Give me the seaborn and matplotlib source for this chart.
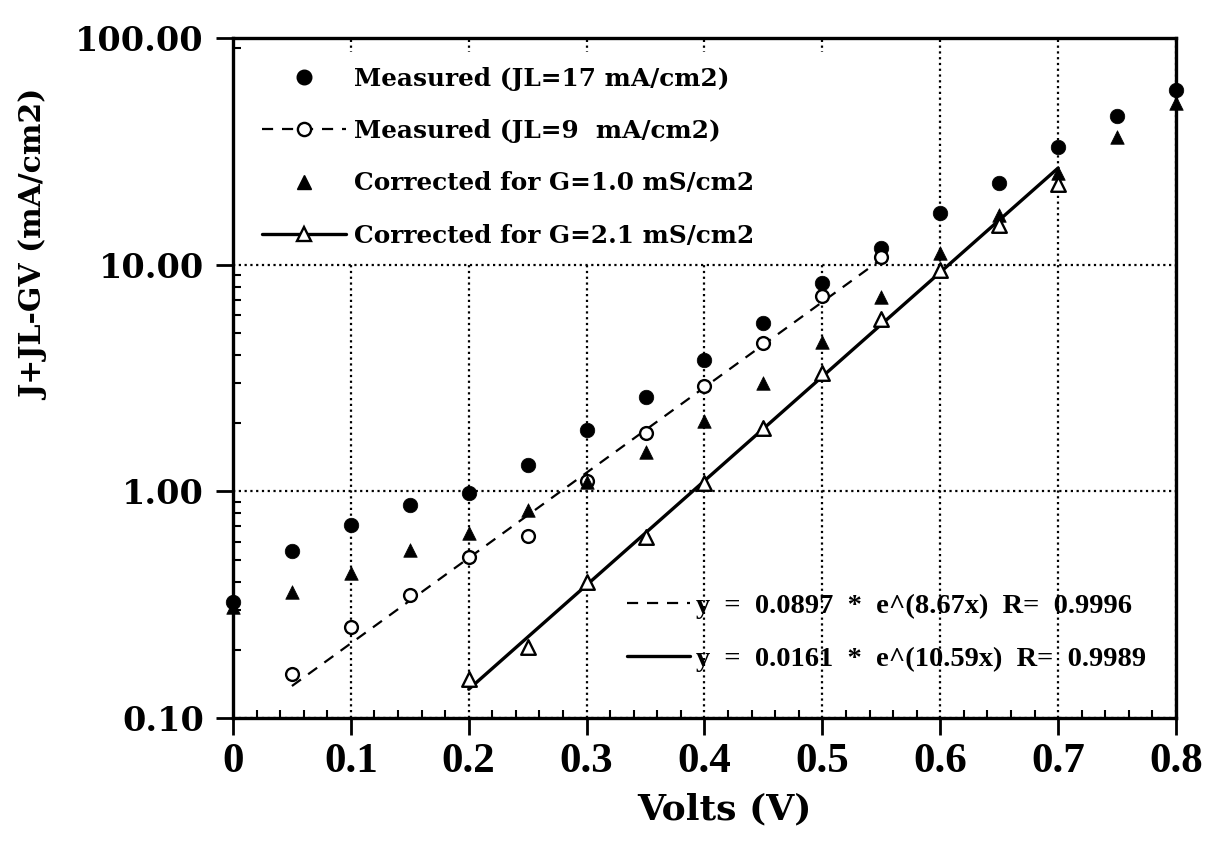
import numpy as np
import matplotlib
matplotlib.use("Agg")
import matplotlib.pyplot as plt
from matplotlib.lines import Line2D
from matplotlib.patches import Rectangle
from matplotlib.ticker import FixedLocator, FormatStrFormatter, LogLocator, MultipleLocator, NullFormatter
import seaborn as sns

# ---- data -------------------------------------------------------------
volts = [0.00, 0.05, 0.10, 0.15, 0.20, 0.25, 0.30, 0.35, 0.40,
         0.45, 0.50, 0.55, 0.60, 0.65, 0.70, 0.75, 0.80]
j_meas_jl17 = [0.325, 0.546, 0.71, 0.87, 0.98, 1.31, 1.86, 2.61, 3.8,
               5.5, 8.3, 11.9, 16.9, 22.9, 33.1, 45.3, 59.0]
j_corr_g10 = [0.31, 0.36, 0.436, 0.552, 0.655, 0.828, 1.10, 1.49, 2.04,
              3.0, 4.56, 7.2, 11.3, 16.6, 25.4, 36.6, 51.7]

volts_jl9 = [0.05, 0.10, 0.15, 0.20, 0.25, 0.30, 0.35, 0.40, 0.45, 0.50, 0.55]
j_meas_jl9 = [0.157, 0.252, 0.349, 0.514, 0.636, 1.11, 1.81, 2.92, 4.5, 7.3, 10.8]

volts_g21 = [0.20, 0.25, 0.30, 0.35, 0.40, 0.45, 0.50, 0.55, 0.60, 0.65, 0.70]
j_corr_g21 = [0.148, 0.206, 0.40, 0.63, 1.09, 1.90, 3.33, 5.76, 9.48, 15.0, 22.7]

# exponential fits y = a * e^(b x) and their ranges
fit_jl9 = dict(a=0.0897, b=8.67, r=0.9996, lo=0.05, hi=0.55)
fit_g21 = dict(a=0.0161, b=10.59, r=0.9989, lo=0.20, hi=0.70)

legend_labels = ["Measured (JL=17 mA/cm2)", "Measured (JL=9  mA/cm2)",
                 "Corrected for G=1.0 mS/cm2", "Corrected for G=2.1 mS/cm2"]
x_ticks = [0, 0.1, 0.2, 0.3, 0.4, 0.5, 0.6, 0.7, 0.8]
x_tick_labels = ["0", "0.1", "0.2", "0.3", "0.4", "0.5", "0.6", "0.7", "0.8"]
y_ticks = [0.1, 1, 10, 100]

# ---- figure -----------------------------------------------------------
sns.set_theme(style="white")
plt.rcParams["font.family"] = ["DejaVu Serif", "DejaVu Sans"]
plt.rcParams["text.color"] = "black"
plt.rcParams["axes.labelcolor"] = "black"
plt.rcParams["xtick.color"] = "black"
plt.rcParams["ytick.color"] = "black"

fig = plt.figure(figsize=(12.11, 8.42), dpi=100)
ax = fig.add_axes([0.1924, 0.1473, 0.7787, 0.8076])
ax.set_axisbelow(True)

dash_style = (0, (5, 4))
ink = "black"

# fit lines
for fit, ls, lw in [(fit_jl9, dash_style, 1.6), (fit_g21, "-", 2.4)]:
    xs = np.linspace(fit["lo"], fit["hi"], 50)
    sns.lineplot(x=xs, y=fit["a"] * np.exp(fit["b"] * xs), ax=ax, color=ink,
                 linestyle=ls, linewidth=lw, estimator=None, sort=False, zorder=2)

mk = dict(ax=ax, clip_on=False, legend=False)
sns.scatterplot(x=volts, y=j_meas_jl17, marker="o", s=110, color=ink,
                edgecolor=ink, linewidth=0.5, zorder=3, **mk)
sns.scatterplot(x=volts_jl9, y=j_meas_jl9, marker="o", s=85, color="white",
                edgecolor=ink, linewidth=1.7, zorder=4, **mk)
sns.scatterplot(x=volts, y=j_corr_g10, marker="^", s=95, color=ink,
                edgecolor=ink, linewidth=0.5, zorder=5, **mk)
sns.scatterplot(x=volts_g21, y=j_corr_g21, marker="^", s=110, color="white",
                edgecolor=ink, linewidth=1.7, zorder=6, **mk)

# ---- axes -------------------------------------------------------------
ax.set_yscale("log")
ax.set_xlim(0, 0.8)
ax.set_ylim(0.1, 100)

ax.xaxis.set_major_locator(FixedLocator(x_ticks))
ax.set_xticklabels(x_tick_labels)
ax.xaxis.set_minor_locator(MultipleLocator(0.02))
ax.yaxis.set_major_locator(FixedLocator(y_ticks))
ax.yaxis.set_major_formatter(FormatStrFormatter("%.2f"))
ax.yaxis.set_minor_locator(LogLocator(base=10, subs=np.arange(2, 10)))
ax.yaxis.set_minor_formatter(NullFormatter())

ax.tick_params(axis="both", which="major", direction="out", length=12,
               width=2.0, color=ink, labelcolor=ink, bottom=True, left=True)
ax.tick_params(axis="both", which="minor", direction="in", length=6,
               width=1.5, color=ink, bottom=True, left=True)
ax.tick_params(axis="x", which="major", pad=6)
ax.tick_params(axis="y", which="major", pad=9)

for lab in ax.get_xticklabels():
    lab.set_fontfamily("Liberation Serif")
    lab.set_fontweight("bold")
    lab.set_fontsize(31)
for lab in ax.get_yticklabels():
    lab.set_fontfamily("DejaVu Serif")
    lab.set_fontweight("bold")
    lab.set_fontsize(24)

for sp in ax.spines.values():
    sp.set_visible(True)
    sp.set_color(ink)
    sp.set_linewidth(2.4)

ax.grid(True, which="major", color=ink, linestyle=(0, (1, 1.6)), linewidth=1.6)
ax.set_xlabel("Volts (V)", fontsize=26, fontweight="bold", fontfamily="DejaVu Serif",
              color=ink)
ax.xaxis.set_label_coords(0.521, -0.110)
ax.set_ylabel("J+JL-GV (mA/cm2)", fontsize=21.5, fontweight="bold",
              fontfamily="DejaVu Serif", color=ink)
ax.yaxis.set_label_coords(-0.195, 0.696)

# white panel behind the series key
ax.add_patch(Rectangle((0.0, 0.670), 0.66, 0.309, transform=ax.transAxes,
                       facecolor="white", edgecolor="none", zorder=1))

# ---- series key -------------------------------------------------------
handles = [
    Line2D([], [], linestyle="none", marker="o", markersize=10.5, color=ink),
    Line2D([], [], linestyle=dash_style, linewidth=1.6, color=ink, marker="o",
           markersize=9.5, markerfacecolor="white", markeredgewidth=1.7),
    Line2D([], [], linestyle="none", marker="^", markersize=10, color=ink),
    Line2D([], [], linestyle="-", linewidth=2.4, color=ink, marker="^",
           markersize=10.5, markerfacecolor="white", markeredgewidth=1.7),
]
leg = ax.legend(handles, legend_labels, loc="upper left", bbox_to_anchor=(0.031, 0.958),
                frameon=False, borderaxespad=0, borderpad=0, handlelength=3.4,
                handletextpad=0.3, labelspacing=1.15,
                prop=dict(family="DejaVu Serif", weight="bold", size=17.8))
leg.set_zorder(7)
for t in leg.get_texts():
    t.set_color(ink)
ax.add_artist(leg)

# ---- fit equations ----------------------------------------------------
fit_handles = [Line2D([], [], linestyle=dash_style, linewidth=1.6, color=ink),
               Line2D([], [], linestyle="-", linewidth=2.4, color=ink)]
fit_labels = [f"y  =  {fit_jl9['a']:.4f}  *  e^({fit_jl9['b']:.2f}x)  R=  {fit_jl9['r']:.4f}",
              f"y  =  {fit_g21['a']:.4f}  *  e^({fit_g21['b']:.2f}x)  R=  {fit_g21['r']:.4f}"]
leg2 = ax.legend(fit_handles, fit_labels, loc="upper left", bbox_to_anchor=(0.418, 0.183),
                 frameon=False, borderaxespad=0, borderpad=0, handlelength=2.2,
                 handletextpad=0.2, labelspacing=0.95,
                 prop=dict(family="Liberation Serif", weight="bold", size=20.5))
leg2.set_zorder(7)
for t in leg2.get_texts():
    t.set_color(ink)

fig.savefig("out.png", dpi=100, facecolor="white")
